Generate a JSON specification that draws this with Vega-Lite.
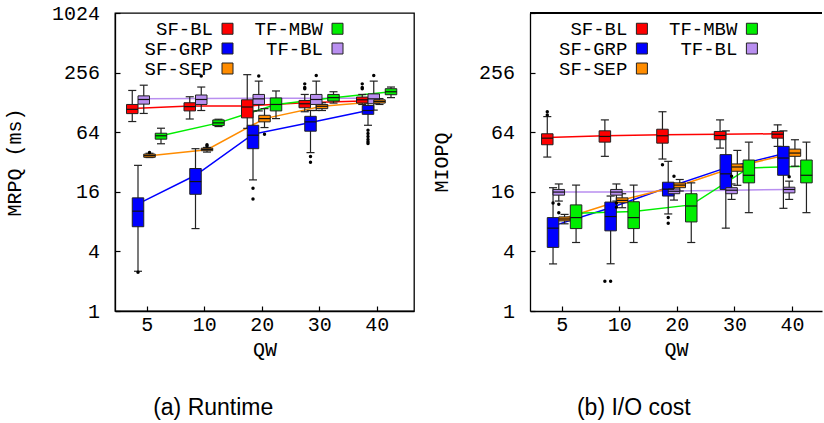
{
  "$schema": "https://vega.github.io/schema/vega-lite/v6.json",
  "padding": {"left": 3, "top": 2, "right": 0, "bottom": 0},
  "spacing": 16,
  "config": {
    "font": "Liberation Mono",
    "view": {"stroke": "black", "strokeWidth": 1.3},
    "axis": {"grid": false, "labelFont": "Liberation Mono", "labelFontSize": 20, "labelColor": "black", "titleFont": "Liberation Mono", "titleFontSize": 20, "titleFontWeight": "normal", "titleColor": "black", "domainColor": "black", "domainWidth": 1.3, "tickColor": "black", "tickSize": -5, "tickWidth": 1.2},
    "axisX": {"labelPadding": 8, "titlePadding": 5, "labelAngle": 0, "labelFlush": false},
    "axisY": {"labelPadding": 20.5, "titlePadding": 27, "format": "d"},
    "legend": {"title": null, "orient": "none", "columns": 2, "symbolType": "square", "symbolSize": 121, "symbolStrokeColor": "#222", "symbolStrokeWidth": 1, "symbolOpacity": 1, "labelFont": "Liberation Mono", "labelFontSize": 19, "labelColor": "black", "labelAlign": "right", "labelOffset": -24, "columnPadding": 19, "rowPadding": 0, "padding": 0, "labelLimit": 300}
  },
  "resolve": {"scale": {"x": "independent", "y": "independent"}},
  "datasets": {
    "boxes": [
      {"p":"a","m":"SF-BL","qw":5,"lo":82,"q1":98.6,"med":108.9,"q3":122,"hi":169,"mean":111,"out":[]},
      {"p":"a","m":"SF-BL","qw":10,"lo":87,"q1":105,"med":116,"q3":127,"hi":146,"mean":118,"out":[]},
      {"p":"a","m":"SF-BL","qw":20,"lo":70,"q1":89.3,"med":115,"q3":136,"hi":244,"mean":118,"out":[]},
      {"p":"a","m":"SF-BL","qw":30,"lo":103,"q1":113,"med":124,"q3":134,"hi":154,"mean":127,"out":[197,181,176]},
      {"p":"a","m":"SF-BL","qw":40,"lo":122,"q1":126,"med":136,"q3":145,"hi":154,"mean":132,"out":[197,181,176]},
      {"p":"a","m":"SF-GRP","qw":5,"lo":2.52,"q1":7.1,"med":10.2,"q3":13.9,"hi":29.6,"mean":12.1,"out":[2.46]},
      {"p":"a","m":"SF-GRP","qw":10,"lo":6.8,"q1":15.1,"med":20.3,"q3":27.5,"hi":43.6,"mean":23.5,"out":[]},
      {"p":"a","m":"SF-GRP","qw":20,"lo":21.1,"q1":43.6,"med":59.7,"q3":75.2,"hi":105,"mean":61.1,"out":[17.4,13.5]},
      {"p":"a","m":"SF-GRP","qw":30,"lo":39.8,"q1":65.5,"med":81.4,"q3":92.6,"hi":106,"mean":80,"out":[36.3,31.8]},
      {"p":"a","m":"SF-GRP","qw":40,"lo":75.2,"q1":97,"med":106,"q3":119,"hi":126,"mean":106,"out":[67,62.1,58,54.1,51.3,49.3]},
      {"p":"a","m":"TF-BL","qw":5,"lo":99,"q1":123,"med":137,"q3":149,"hi":191,"mean":139,"out":[]},
      {"p":"a","m":"TF-BL","qw":10,"lo":106,"q1":122,"med":137,"q3":152,"hi":183,"mean":140,"out":[237]},
      {"p":"a","m":"TF-BL","qw":20,"lo":105,"q1":122,"med":139,"q3":154,"hi":210,"mean":141,"out":[236]},
      {"p":"a","m":"TF-BL","qw":30,"lo":106,"q1":122,"med":137,"q3":154,"hi":210,"mean":141,"out":[239]},
      {"p":"a","m":"TF-BL","qw":40,"lo":107,"q1":124,"med":139,"q3":156,"hi":210,"mean":141,"out":[239]},
      {"p":"a","m":"SF-SEP","qw":5,"lo":35.5,"q1":35.7,"med":37.1,"q3":38.5,"hi":39.2,"mean":37,"out":[40]},
      {"p":"a","m":"SF-SEP","qw":10,"lo":40.3,"q1":41.6,"med":42.9,"q3":44.2,"hi":44.9,"mean":42.6,"out":[47.8,46.4]},
      {"p":"a","m":"SF-SEP","qw":20,"lo":71.3,"q1":81.4,"med":87.8,"q3":94.8,"hi":110.7,"mean":87.8,"out":[61.1]},
      {"p":"a","m":"SF-SEP","qw":30,"lo":106,"q1":110.7,"med":117,"q3":122,"hi":127,"mean":117,"out":[]},
      {"p":"a","m":"SF-SEP","qw":40,"lo":122,"q1":126,"med":131,"q3":136,"hi":140,"mean":131,"out":[]},
      {"p":"a","m":"TF-MBW","qw":5,"lo":48.9,"q1":54.4,"med":58.9,"q3":62.5,"hi":70.2,"mean":58.9,"out":[]},
      {"p":"a","m":"TF-MBW","qw":10,"lo":73,"q1":74.7,"med":79.5,"q3":85.2,"hi":86.5,"mean":79.5,"out":[]},
      {"p":"a","m":"TF-MBW","qw":20,"lo":87.8,"q1":105,"med":122,"q3":142,"hi":167,"mean":122,"out":[]},
      {"p":"a","m":"TF-MBW","qw":30,"lo":126,"q1":132,"med":143,"q3":154,"hi":164,"mean":143,"out":[]},
      {"p":"a","m":"TF-MBW","qw":40,"lo":143,"q1":153,"med":164,"q3":176,"hi":183,"mean":164,"out":[]},
      {"p":"b","m":"SF-BL","qw":5,"lo":35.9,"q1":47.8,"med":55.7,"q3":61.7,"hi":92,"mean":56.6,"out":[103,95.7]},
      {"p":"b","m":"SF-BL","qw":10,"lo":36.5,"q1":50.8,"med":58,"q3":66.1,"hi":85.2,"mean":58.9,"out":[2.0]},
      {"p":"b","m":"SF-BL","qw":20,"lo":34.3,"q1":49.6,"med":58.9,"q3":68.6,"hi":103,"mean":60.3,"out":[30]},
      {"p":"b","m":"SF-BL","qw":30,"lo":44.2,"q1":53.7,"med":59.3,"q3":65.1,"hi":85.2,"mean":61.1,"out":[]},
      {"p":"b","m":"SF-BL","qw":40,"lo":46,"q1":55.7,"med":61.1,"q3":65.1,"hi":75.9,"mean":61.7,"out":[]},
      {"p":"b","m":"SF-GRP","qw":5,"lo":2.99,"q1":4.39,"med":6.87,"q3":8.78,"hi":17.6,"mean":7.24,"out":[12.3]},
      {"p":"b","m":"SF-GRP","qw":10,"lo":3.0,"q1":6.45,"med":9.0,"q3":12.6,"hi":14.5,"mean":11.05,"out":[2.0]},
      {"p":"b","m":"SF-GRP","qw":20,"lo":9.56,"q1":14.5,"med":17.0,"q3":20.0,"hi":32.5,"mean":17.8,"out":[8.8,7.7]},
      {"p":"b","m":"SF-GRP","qw":30,"lo":6.87,"q1":16.9,"med":24.3,"q3":38,"hi":66,"mean":27.9,"out":[]},
      {"p":"b","m":"SF-GRP","qw":40,"lo":10.9,"q1":23.5,"med":35.1,"q3":46,"hi":66,"mean":38.8,"out":[]},
      {"p":"b","m":"TF-BL","qw":5,"lo":12.9,"q1":14.8,"med":15.9,"q3":16.9,"hi":19.2,"mean":15.9,"out":[12.0,9.85]},
      {"p":"b","m":"TF-BL","qw":10,"lo":12.9,"q1":14.8,"med":15.9,"q3":16.9,"hi":19.2,"mean":15.9,"out":[12.3,11.2]},
      {"p":"b","m":"TF-BL","qw":20,"lo":13.2,"q1":15.3,"med":16.2,"q3":17.1,"hi":19.2,"mean":16.3,"out":[23]},
      {"p":"b","m":"TF-BL","qw":30,"lo":13.4,"q1":15.3,"med":16.6,"q3":17.6,"hi":19.2,"mean":16.6,"out":[23]},
      {"p":"b","m":"TF-BL","qw":40,"lo":13.4,"q1":15.6,"med":16.9,"q3":17.8,"hi":20.5,"mean":16.9,"out":[22.7]},
      {"p":"b","m":"SF-SEP","qw":5,"lo":7.6,"q1":8.13,"med":8.5,"q3":8.92,"hi":9.46,"mean":8.66,"out":[]},
      {"p":"b","m":"SF-SEP","qw":10,"lo":11.05,"q1":12.4,"med":13.1,"q3":13.9,"hi":15.3,"mean":13.2,"out":[]},
      {"p":"b","m":"SF-SEP","qw":20,"lo":16.3,"q1":17.6,"med":18.7,"q3":19.7,"hi":21.3,"mean":18.5,"out":[]},
      {"p":"b","m":"SF-SEP","qw":30,"lo":18.6,"q1":25.8,"med":28.5,"q3":30.6,"hi":41.9,"mean":29,"out":[]},
      {"p":"b","m":"SF-SEP","qw":40,"lo":29,"q1":36.5,"med":39.4,"q3":43.2,"hi":53.7,"mean":39.4,"out":[]},
      {"p":"b","m":"TF-MBW","qw":5,"lo":4.92,"q1":6.8,"med":8.78,"q3":11.8,"hi":18.7,"mean":9.7,"out":[]},
      {"p":"b","m":"TF-MBW","qw":10,"lo":4.92,"q1":6.8,"med":8.78,"q3":12.7,"hi":18.7,"mean":10.1,"out":[]},
      {"p":"b","m":"TF-MBW","qw":20,"lo":4.92,"q1":7.94,"med":11.5,"q3":15.3,"hi":19.7,"mean":11.8,"out":[]},
      {"p":"b","m":"TF-MBW","qw":30,"lo":9.85,"q1":19.7,"med":23.5,"q3":33.5,"hi":50.8,"mean":27.9,"out":[]},
      {"p":"b","m":"TF-MBW","qw":40,"lo":9.85,"q1":19.7,"med":23.5,"q3":33.5,"hi":50.8,"mean":29,"out":[]}
    ]
  },
  "hconcat": [
    {
      "width": 299, "height": 298,
      "title": {"text": "(a) Runtime", "orient": "bottom", "anchor": "middle", "frame": "bounds", "offset": 38, "dx": 4, "font": "Liberation Sans", "fontSize": 23, "fontWeight": "normal", "color": "black"},
      "data": {"name": "boxes"},
      "transform": [
        {"filter": "datum.p == 'a'"},
        {"calculate": "indexof([5,10,20,30,40], datum.qw) + 1 + (datum.m == 'SF-BL' ? -0.25 : datum.m == 'SF-GRP' ? -0.15 : datum.m == 'TF-BL' ? -0.05 : datum.m == 'SF-SEP' ? 0.05 : 0.25)", "as": "xpos"},
        {"calculate": "datum.xpos - 0.1", "as": "bl"},
        {"calculate": "datum.xpos + 0.1", "as": "br"},
        {"calculate": "datum.xpos - 0.07", "as": "cl"},
        {"calculate": "datum.xpos + 0.07", "as": "cr"}
      ],
      "layer": [
        {
          "transform": [{"calculate": "datum.m", "as": "series"}],
          "mark": {"type": "line", "strokeWidth": 1.5},
          "encoding": {
            "x": {"field": "xpos", "type": "quantitative", "scale": {"type": "linear", "domain": [0.45, 5.65], "nice": false, "zero": false},
                  "axis": {"values": [1,2,3,4,5], "labelExpr": "['5','10','20','30','40'][datum.value - 1]", "title": "QW"}},
            "y": {"field": "mean", "type": "quantitative", "scale": {"type": "log", "base": 2, "domain": [1, 1024], "nice": false},
                  "axis": {"values": [1,4,16,64,256,1024], "title": "MRPQ (ms)"}},
            "stroke": {"field": "series", "type": "nominal", "sort": ["SF-BL","SF-GRP","SF-SEP","TF-MBW","TF-BL"], "scale": {"range": ["#ff0000","#0000ff","#ff8c00","#00ee00","#b98ff0"]}, "legend": null}
          }
        },
        {
          "mark": {"type": "rule", "color": "#222", "strokeWidth": 1.2},
          "encoding": {"x": {"field": "xpos", "type": "quantitative"}, "y": {"field": "lo", "type": "quantitative"}, "y2": {"field": "hi"}}
        },
        {
          "mark": {"type": "rule", "color": "#222", "strokeWidth": 1.2},
          "encoding": {"x": {"field": "cl", "type": "quantitative"}, "x2": {"field": "cr"}, "y": {"field": "lo", "type": "quantitative"}}
        },
        {
          "mark": {"type": "rule", "color": "#222", "strokeWidth": 1.2},
          "encoding": {"x": {"field": "cl", "type": "quantitative"}, "x2": {"field": "cr"}, "y": {"field": "hi", "type": "quantitative"}}
        },
        {
          "mark": {"type": "rect", "stroke": "#222", "strokeWidth": 1, "opacity": 1},
          "encoding": {
            "x": {"field": "bl", "type": "quantitative"}, "x2": {"field": "br"},
            "y": {"field": "q1", "type": "quantitative"}, "y2": {"field": "q3"},
            "fill": {"field": "m", "type": "nominal", "sort": ["SF-BL","SF-GRP","SF-SEP","TF-MBW","TF-BL"], "scale": {"range": ["#ff0000","#0000ff","#ff8c00","#00ee00","#b98ff0"]},
              "legend": {"legendX": 103, "legendY": 6,
                "labelExpr": "(datum.label == 'SF-BL' || datum.label == 'TF-BL') ? '\u00a0' + datum.label : datum.label"}}
          }
        },
        {
          "mark": {"type": "rule", "color": "#111", "strokeWidth": 1.2},
          "encoding": {"x": {"field": "bl", "type": "quantitative"}, "x2": {"field": "br"}, "y": {"field": "med", "type": "quantitative"}}
        },
        {
          "transform": [{"flatten": ["out"]}],
          "mark": {"type": "point", "filled": true, "color": "black", "size": 12, "opacity": 1},
          "encoding": {"x": {"field": "xpos", "type": "quantitative"}, "y": {"field": "out", "type": "quantitative"}}
        }
      ]
    },
    {
      "width": 292, "height": 298,
      "view": {"stroke": null},
      "title": {"text": "(b) I/O cost", "orient": "bottom", "anchor": "middle", "frame": "bounds", "offset": 38, "dx": 7, "font": "Liberation Sans", "fontSize": 23, "fontWeight": "normal", "color": "black"},
      "data": {"name": "boxes"},
      "transform": [
        {"filter": "datum.p == 'b'"},
        {"calculate": "indexof([5,10,20,30,40], datum.qw) + 1 + (datum.m == 'SF-BL' ? -0.25 : datum.m == 'SF-GRP' ? -0.15 : datum.m == 'TF-BL' ? -0.05 : datum.m == 'SF-SEP' ? 0.05 : 0.25)", "as": "xpos"},
        {"calculate": "datum.xpos - 0.1", "as": "bl"},
        {"calculate": "datum.xpos + 0.1", "as": "br"},
        {"calculate": "datum.xpos - 0.07", "as": "cl"},
        {"calculate": "datum.xpos + 0.07", "as": "cr"}
      ],
      "layer": [
        {
          "transform": [{"calculate": "datum.m", "as": "series"}],
          "mark": {"type": "line", "strokeWidth": 1.5},
          "encoding": {
            "x": {"field": "xpos", "type": "quantitative", "scale": {"type": "linear", "domain": [0.45, 5.52], "nice": false, "zero": false},
                  "axis": {"values": [1,2,3,4,5], "labelExpr": "['5','10','20','30','40'][datum.value - 1]", "title": "QW"}},
            "y": {"field": "mean", "type": "quantitative", "scale": {"type": "log", "base": 2, "domain": [1, 1024], "nice": false},
                  "axis": {"values": [1,4,16,64,256,1024], "title": "MIOPQ", "maxExtent": 52, "labelColor": {"condition": {"test": "datum.value == 1024", "value": "transparent"}, "value": "black"}}},
            "stroke": {"field": "series", "type": "nominal", "sort": ["SF-BL","SF-GRP","SF-SEP","TF-MBW","TF-BL"], "scale": {"range": ["#ff0000","#0000ff","#ff8c00","#00ee00","#b98ff0"]}, "legend": null}
          }
        },
        {
          "mark": {"type": "rule", "color": "black", "strokeWidth": 1.3},
          "encoding": {"y": {"datum": 1024}}
        },
        {
          "mark": {"type": "rule", "color": "#222", "strokeWidth": 1.2},
          "encoding": {"x": {"field": "xpos", "type": "quantitative"}, "y": {"field": "lo", "type": "quantitative"}, "y2": {"field": "hi"}}
        },
        {
          "mark": {"type": "rule", "color": "#222", "strokeWidth": 1.2},
          "encoding": {"x": {"field": "cl", "type": "quantitative"}, "x2": {"field": "cr"}, "y": {"field": "lo", "type": "quantitative"}}
        },
        {
          "mark": {"type": "rule", "color": "#222", "strokeWidth": 1.2},
          "encoding": {"x": {"field": "cl", "type": "quantitative"}, "x2": {"field": "cr"}, "y": {"field": "hi", "type": "quantitative"}}
        },
        {
          "mark": {"type": "rect", "stroke": "#222", "strokeWidth": 1, "opacity": 1},
          "encoding": {
            "x": {"field": "bl", "type": "quantitative"}, "x2": {"field": "br"},
            "y": {"field": "q1", "type": "quantitative"}, "y2": {"field": "q3"},
            "color": {"field": "m", "type": "nominal", "sort": ["SF-BL","SF-GRP","SF-SEP","TF-MBW","TF-BL"], "scale": {"range": ["#ff0000","#0000ff","#ff8c00","#00ee00","#b98ff0"]},
              "legend": {"legendX": 517.4, "legendY": 6,
                "labelExpr": "(datum.label == 'SF-BL' || datum.label == 'TF-BL') ? '\u00a0' + datum.label : datum.label"}}
          }
        },
        {
          "mark": {"type": "rule", "color": "#111", "strokeWidth": 1.2},
          "encoding": {"x": {"field": "bl", "type": "quantitative"}, "x2": {"field": "br"}, "y": {"field": "med", "type": "quantitative"}}
        },
        {
          "transform": [{"flatten": ["out"]}],
          "mark": {"type": "point", "filled": true, "color": "black", "size": 12, "opacity": 1},
          "encoding": {"x": {"field": "xpos", "type": "quantitative"}, "y": {"field": "out", "type": "quantitative"}}
        }
      ]
    }
  ]
}
